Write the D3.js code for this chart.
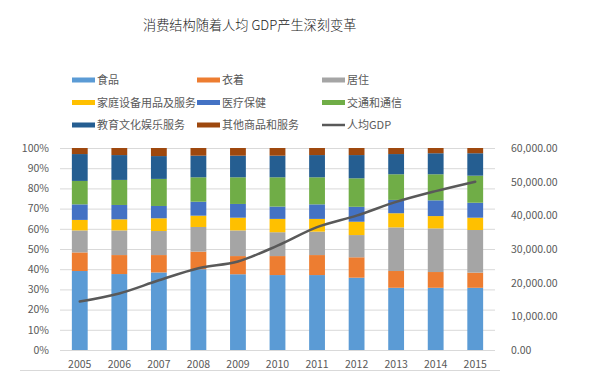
<!DOCTYPE html>
<html><head><meta charset="utf-8">
<script src="https://cdn.jsdelivr.net/npm/d3@7"></script>
<style>
body{margin:0;background:#fff;}
text{font-family:"Noto Sans CJK SC","Liberation Sans",sans-serif;}
</style></head>
<body><svg id="c" width="590" height="386"></svg>
<script>
const years = ["2005","2006","2007","2008","2009","2010","2011","2012","2013","2014","2015"];
const seriesNames = ["食品","衣着","居住","家庭设备用品及服务","医疗保健","交通和通信","教育文化娱乐服务","其他商品和服务"];
const food      = [39.1,37.6,38.4,40.0,37.5,37.1,37.1,35.8,30.8,30.8,30.8];
const clothing  = [9.2, 9.4, 8.6, 8.7, 9.0, 9.4, 9.9,10.1, 8.3, 7.8, 7.5];
const housing   = [10.9,12.2,11.9,12.2,12.7,11.8,11.6,11.0,21.6,21.6,21.1];
const household = [5.2, 5.5, 6.3, 5.6, 6.3, 6.6, 6.3, 6.6, 7.0, 6.1, 6.1];
const medical   = [7.7, 7.1, 6.1, 6.9, 6.8, 6.1, 7.2, 7.4, 6.6, 7.8, 7.4];
const transport = [11.6,12.4,13.4,12.1,13.2,14.5,13.4,14.1,12.7,12.9,13.4];
const education = [13.3,12.3,11.3,10.7,10.7,10.7,11.0,11.5,10.0,10.4,11.1];
const other     = [3.0, 3.5, 4.0, 3.8, 3.8, 3.8, 3.5, 3.5, 3.0, 2.6, 2.6];
const gdp       = [14400,16800,20700,24300,26300,31000,36500,39900,44000,47200,50000];
const leftTicks = [0,10,20,30,40,50,60,70,80,90,100];
const rightTicks = [0,10000,20000,30000,40000,50000,60000];
const lineName = "人均GDP";
const title = "消费结构随着人均 GDP产生深刻变革";
const colors = ["#5B9BD5","#ED7D31","#A5A5A5","#FFC000","#4472C4","#70AD47","#255E91","#9E480E"];
const lineColor = "#595959";

const allSeries = [food,clothing,housing,household,medical,transport,education,other];
const rows = years.map((y,i)=>{const r={year:y}; seriesNames.forEach((n,k)=>r[n]=allSeries[k][i]); return r;});

const svg = d3.select("#c");
const L=60,R=495,T=148,B=350;
const x = d3.scaleBand().domain(years).range([L,R]).paddingInner(0.6).paddingOuter(0.3);
const y = d3.scaleLinear().domain([0,100]).range([B,T]);
const y2 = d3.scaleLinear().domain([0,60000]).range([B,T]);

svg.append("text").attr("x",143).attr("y",30).attr("font-size",13.2).attr("fill","#222")
  .attr("font-weight",300).text(title);

// gridlines
svg.append("g").selectAll("line").data(leftTicks).join("line")
  .attr("x1",L).attr("x2",R).attr("y1",d=>y(d)+0.5).attr("y2",d=>y(d)+0.5)
  .attr("stroke","#D9D9D9").attr("stroke-width",1);

// axes
const ga = svg.append("g").attr("transform",`translate(${L-6},0)`)
  .call(d3.axisLeft(y).tickValues(leftTicks).tickFormat(d=>d+"%").tickSize(0).tickPadding(5));
const gb = svg.append("g").attr("transform",`translate(${R+6},0)`)
  .call(d3.axisRight(y2).tickValues(rightTicks).tickFormat(d3.format(",.2f")).tickSize(0).tickPadding(10));
const gx = svg.append("g").attr("transform",`translate(0,${B})`)
  .call(d3.axisBottom(x).tickSize(0).tickPadding(11));
[ga,gb,gx].forEach(g=>{g.select(".domain").remove();
  g.selectAll("text").attr("font-size",10.5).attr("fill","#595959").attr("font-family","Liberation Sans, sans-serif");});

// bars
const stack = d3.stack().keys(seriesNames)(rows);
svg.append("g").selectAll("g").data(stack).join("g").attr("fill",(d,i)=>colors[i])
  .selectAll("rect").data(d=>d).join("rect")
  .attr("x",d=>x(d.data.year)).attr("width",x.bandwidth())
  .attr("y",d=>y(d[1])).attr("height",d=>y(d[0])-y(d[1]));

// line
const line = d3.line().x((d,i)=>x(years[i])+x.bandwidth()/2).y(d=>y2(d)).curve(d3.curveMonotoneX);
svg.append("path").datum(gdp).attr("d",line).attr("fill","none").attr("stroke",lineColor).attr("stroke-width",2.5).attr("stroke-linecap","round");

// bottom border line
svg.append("line").attr("x1",20).attr("x2",500).attr("y1",370.5).attr("y2",370.5).attr("stroke","#D9D9D9");

// legend
const legendItems = seriesNames.map((n,i)=>({name:n,color:colors[i],type:"rect"})).concat([{name:lineName,color:lineColor,type:"line"}]);
const colX=[72,197,322], rowY=[80,102.5,125];
const lg = svg.append("g").selectAll("g").data(legendItems).join("g")
  .attr("transform",(d,i)=>`translate(${colX[i%3]},${rowY[Math.floor(i/3)]})`);
lg.filter(d=>d.type==="rect").append("rect").attr("x",0).attr("y",-2.5).attr("width",23).attr("height",5).attr("fill",d=>d.color);
lg.filter(d=>d.type==="line").append("line").attr("x1",0).attr("x2",23).attr("y1",0).attr("y2",0).attr("stroke",d=>d.color).attr("stroke-width",2.5);
lg.append("text").attr("x",25).attr("y",4).attr("font-size",11).attr("fill","#595959").text(d=>d.name);
</script></body></html>
